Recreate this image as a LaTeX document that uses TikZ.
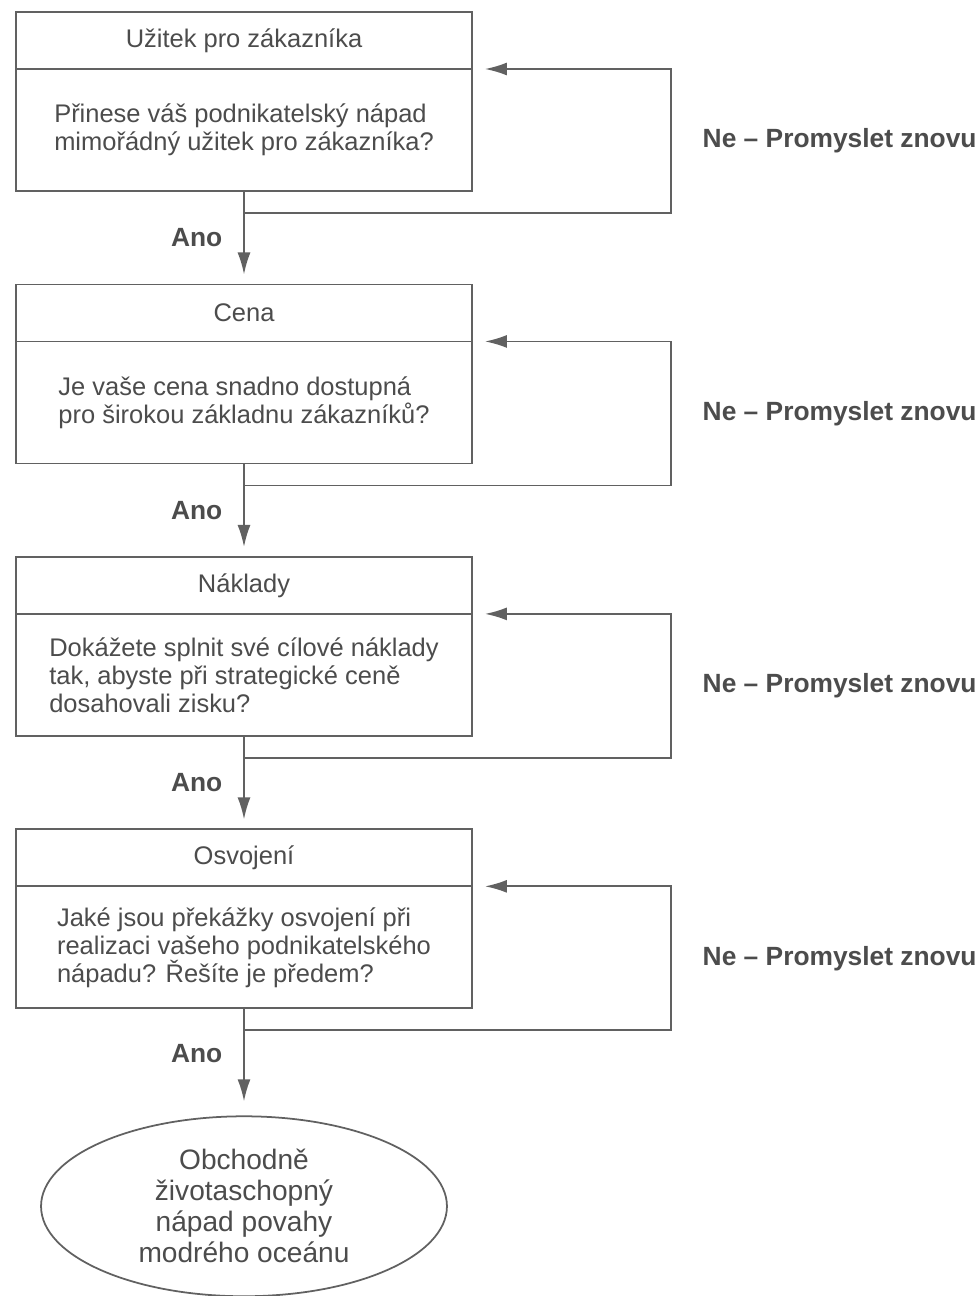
\documentclass[tikz,border=0pt]{standalone}
\usepackage{fontspec}
\setmainfont{Liberation Sans}
\usetikzlibrary{positioning,calc,shapes.geometric,arrows.meta}
\colorlet{ink}{black!70}
\colorlet{wire}{black!62}
\tikzset{>={Latex[length=0.44cm,width=0.26cm]}}
\newcommand{\boxfont}{\fontsize{14.5}{15.9}\selectfont}
\tikzset{
  head/.style = {draw=wire, text=ink, minimum width=9.12cm,
    minimum height=1.14cm, inner sep=0pt, outer sep=0pt, font=\boxfont},
  question/.style = {draw=wire, text=ink, minimum width=9.12cm,
    minimum height=2.44cm, inner sep=0pt, outer sep=0pt, align=left,
    font=\boxfont},
  answer/.style = {text=ink, font=\fontsize{15}{16}\selectfont\bfseries},
  goal/.style = {ellipse, draw=wire, text=ink, minimum width=8.12cm,
    minimum height=3.6cm, inner sep=0pt, outer sep=0pt, align=center,
    font=\fontsize{16}{17.6}\selectfont}
}

\begin{document}
\begin{tikzpicture}[x=0.02cm,y=-0.02cm,line width=1pt,draw=wire]
  \useasboundingbox (0,0) rectangle (979,1296);
  % boxes
  \node[head] (h1) at (244,40.5) {Užitek pro zákazníka};
  \node[question, below=0pt of h1] (q1)
    {Přinese váš podnikatelský nápad\\mimořádný užitek pro zákazníka?};
  \node[head, below=1.87cm of q1] (h2) {Cena};
  \node[question, below=0pt of h2] (q2)
    {Je vaše cena snadno dostupná\\pro širokou základnu zákazníků?};
  \node[head, below=1.87cm of q2] (h3) {Náklady};
  \node[question, below=0pt of h3] (q3)
    {Dokážete splnit své cílové náklady\\tak, abyste při strategické ceně\\dosahovali zisku?};
  \node[head, below=1.87cm of q3] (h4) {Osvojení};
  \node[question, below=0pt of h4] (q4)
    {Jaké jsou překážky osvojení při\\realizaci vašeho podnikatelského\\nápadu? Řešíte je předem?};
  \node[goal, below=2.16cm of q4] (goal)
    {Obchodně\\životaschopný\\nápad povahy\\modrého oceánu};

  % Ano
  \draw[->,shorten >=0.2cm] (q1) -- node[answer, left=0.3cm] (a1) {Ano} (h2);
  \draw[->,shorten >=0.2cm] (q2) -- node[answer, left=0.3cm] (a2) {Ano} (h3);
  \draw[->,shorten >=0.2cm] (q3) -- node[answer, left=0.3cm] (a3) {Ano} (h4);
  \draw[->,shorten >=0.3cm] (q4) -- node[answer, left=0.3cm, pos=0.42] (a4) {Ano} (goal);

  % Ne
  \coordinate (s1) at ($(q1.south)+(0,22)$);
  \coordinate (s2) at ($(q2.south)+(0,22)$);
  \coordinate (s3) at ($(q3.south)+(0,22)$);
  \coordinate (s4) at ($(q4.south)+(0,22)$);
  \draw[->] (s1) -- ++(427,0) coordinate (c1)
    -- node[answer, right=0.5cm] (n1) {Ne – Promyslet znovu} (c1 |- h1.south)
    -- ($(h1.south east)+(13,0)$);
  \draw[->] (s2) -- ++(427,0) coordinate (c2)
    -- node[answer, right=0.5cm] (n2) {Ne – Promyslet znovu} (c2 |- h2.south)
    -- ($(h2.south east)+(13,0)$);
  \draw[->] (s3) -- ++(427,0) coordinate (c3)
    -- node[answer, right=0.5cm] (n3) {Ne – Promyslet znovu} (c3 |- h3.south)
    -- ($(h3.south east)+(13,0)$);
  \draw[->] (s4) -- ++(427,0) coordinate (c4)
    -- node[answer, right=0.5cm] (n4) {Ne – Promyslet znovu} (c4 |- h4.south)
    -- ($(h4.south east)+(13,0)$);
\end{tikzpicture}
\end{document}
